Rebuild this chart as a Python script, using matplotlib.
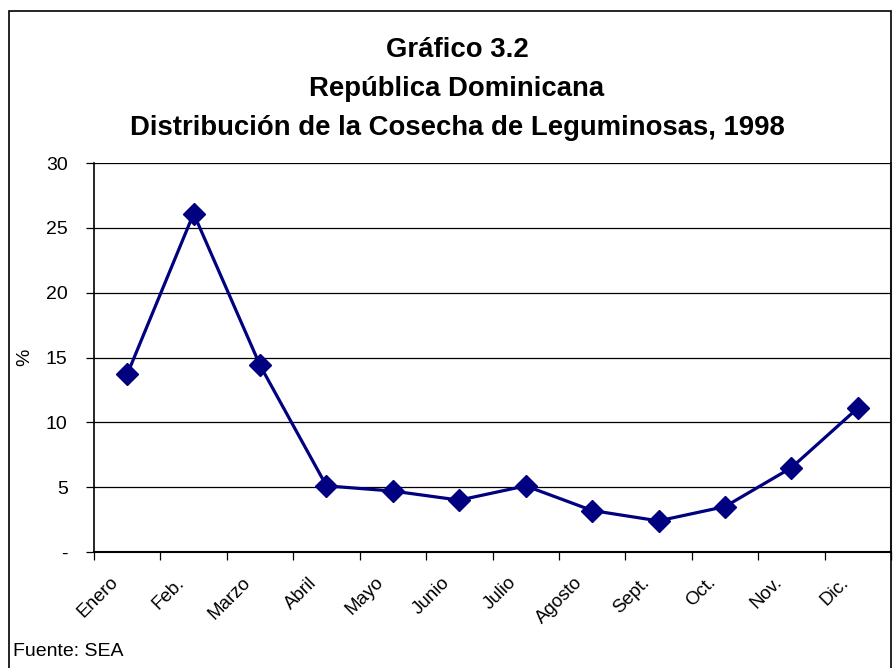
import numpy as np
import matplotlib.pyplot as plt
import matplotlib.transforms as mtransforms
from matplotlib.patches import Rectangle

plt.rcParams['font.family'] = ['Liberation Sans', 'DejaVu Sans']

meses = ["Enero", "Feb.", "Marzo", "Abril", "Mayo", "Junio", "Julio",
         "Agosto", "Sept.", "Oct.", "Nov.", "Dic."]
valores = [13.7, 26.1, 14.4, 5.1, 4.7, 4.0, 5.1, 3.2, 2.4, 3.5, 6.5, 11.1]
yticks = [0, 5, 10, 15, 20, 25, 30]
ytick_labels = ["-", "5", "10", "15", "20", "25", "30"]

fig = plt.figure(figsize=(8.96, 6.68), dpi=100)
ax = fig.add_axes([94/896, 1-552/668, (891-94)/896, (552-163)/668])

x = np.arange(len(meses))
ax.plot(x, valores, color='#000080', linewidth=2.3, marker='D',
        markersize=11, zorder=3)

ax.set_xlim(-0.5, len(meses) - 0.5)
ax.set_ylim(0, 30)
ax.set_yticks(yticks)
ax.set_yticklabels(ytick_labels, fontsize=14)
ax.yaxis.grid(True, color='black', linewidth=0.9)
ax.tick_params(axis='y', length=6, width=0.9, pad=13)

# ticks between categories, labels at the centres
ax.set_xticks(np.arange(-0.5, len(meses), 1.0))
ax.set_xticklabels([])
ax.set_xticks(x, minor=True)
ax.set_xticklabels(meses, minor=True, rotation=45, ha='right',
                   rotation_mode='anchor', fontsize=13.5)
ax.tick_params(axis='x', which='major', length=6, width=0.9)
ax.tick_params(axis='x', which='minor', length=0, pad=10)
offset = mtransforms.ScaledTranslation(-0.18, -0.08, fig.dpi_scale_trans)
for lab in ax.get_xticklabels(minor=True):
    lab.set_transform(lab.get_transform() + offset)

ax.spines['top'].set_visible(False)
ax.spines['right'].set_color('#808080')
ax.spines['right'].set_linewidth(1.5)
ax.spines['left'].set_linewidth(1.2)
ax.spines['bottom'].set_linewidth(1.5)

ax.set_ylabel('%', fontsize=14)
ax.yaxis.set_label_coords(-0.076, 0.5)

fig.text(0.51, 1-50/668, "Gráfico 3.2", ha='center', va='center',
         fontsize=19.8, fontweight='bold')
fig.text(0.51, 1-89/668, "República Dominicana", ha='center', va='center',
         fontsize=19.8, fontweight='bold')
fig.text(0.51, 1-128/668, "Distribución de la Cosecha de Leguminosas, 1998",
         ha='center', va='center', fontsize=19.8, fontweight='bold')
fig.text(13/896, 1-651/668, "Fuente: SEA", ha='left', va='center', fontsize=14)

fig.patches.append(Rectangle((9/896, -0.05), (891-9)/896, 1.05 - 11/668,
                             transform=fig.transFigure, fill=False,
                             edgecolor='black', linewidth=1.2))

fig.savefig('out.png', dpi=100)
